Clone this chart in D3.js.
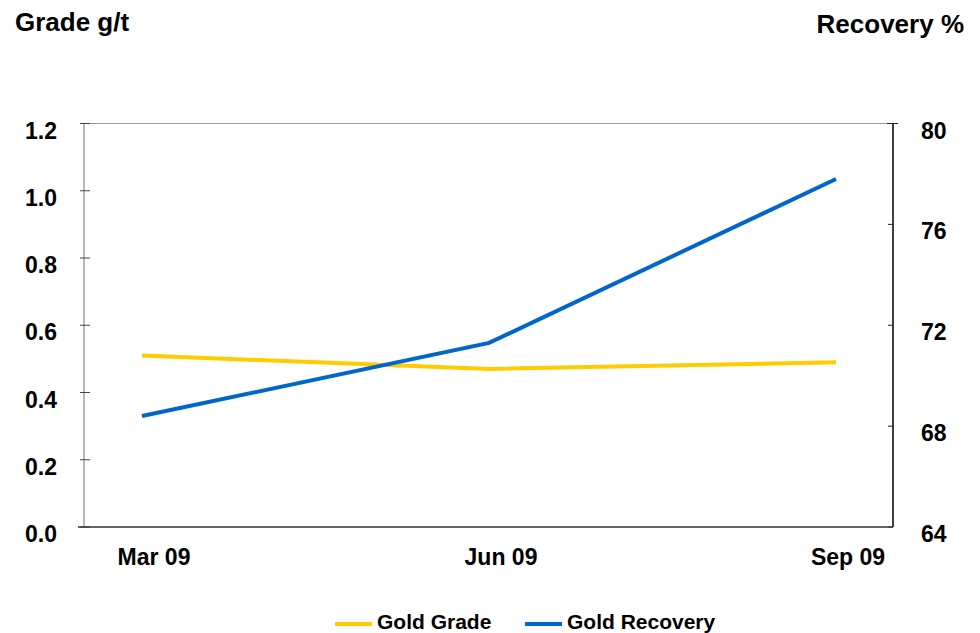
<!DOCTYPE html>
<html>
<head>
<meta charset="utf-8">
<script src="https://cdn.jsdelivr.net/npm/d3@7"></script>
<style>
  body { margin: 0; background: #fff; }
  svg text { font-family: "Liberation Sans", Arial, sans-serif; font-weight: bold; fill: #000; }
</style>
</head>
<body>
<svg id="chart" width="980" height="633"></svg>
<script>
// data
const quarters = ['Mar 09', 'Jun 09', 'Sep 09'];
const goldGrade = [0.51, 0.47, 0.49];
const goldRecovery = [68.4, 71.3, 77.8];
const gradeTicks = [0, 0.2, 0.4, 0.6, 0.8, 1.0, 1.2];
const recoveryTicks = [64, 68, 72, 76, 80];

const yellow = '#FFCC00';
const blue = '#0066CC';

const svg = d3.select('#chart');

const plotLeft = 84, plotRight = 893, plotTop = 123.5, plotBottom = 527;

const x = d3.scalePoint()
    .domain(quarters)
    .range([142, 836]);

const yGrade = d3.scaleLinear().domain([0, 1.2]).range([plotBottom, plotTop]);
const yRec = d3.scaleLinear().domain([64, 80]).range([plotBottom, plotTop]);

// frame: top line
svg.append('line')
    .attr('x1', plotLeft).attr('x2', plotRight)
    .attr('y1', plotTop).attr('y2', plotTop)
    .attr('stroke', '#999').attr('stroke-width', 1);

// left axis
const leftAxis = svg.append('g').attr('transform', `translate(${plotLeft},0)`);
leftAxis.append('line')
    .attr('y1', plotTop).attr('y2', plotBottom)
    .attr('stroke', '#888').attr('stroke-width', 1.2);
gradeTicks.forEach(t => {
    leftAxis.append('line')
        .attr('x1', -4).attr('x2', 6)
        .attr('y1', yGrade(t)).attr('y2', yGrade(t))
        .attr('stroke', '#444');
    leftAxis.append('text')
        .attr('x', -27)
        .attr('y', yGrade(t) + 15)
        .attr('text-anchor', 'end')
        .style('font-size', '23px')
        .text(d3.format('.1f')(t));
});

// right axis
const rightAxis = svg.append('g').attr('transform', `translate(${plotRight},0)`);
rightAxis.append('line')
    .attr('y1', plotTop).attr('y2', plotBottom)
    .attr('stroke', '#000').attr('stroke-width', 1.5);
recoveryTicks.forEach(t => {
    rightAxis.append('line')
        .attr('x1', t === 80 ? -6 : -5).attr('x2', t === 80 ? 5 : 0)
        .attr('y1', yRec(t)).attr('y2', yRec(t))
        .attr('stroke', '#222');
    rightAxis.append('text')
        .attr('x', 28)
        .attr('y', yRec(t) + 15)
        .attr('text-anchor', 'start')
        .style('font-size', '23px')
        .text(t);
});

// bottom axis line
svg.append('line')
    .attr('x1', 78).attr('x2', plotRight)
    .attr('y1', plotBottom).attr('y2', plotBottom)
    .attr('stroke', '#333').attr('stroke-width', 1.5);

// x labels
quarters.forEach(q => {
    svg.append('text')
        .attr('x', x(q) + 12)
        .attr('y', 565)
        .attr('text-anchor', 'middle')
        .style('font-size', '23px')
        .text(q);
});

// lines
const gradeLine = d3.line()
    .x((d, i) => x(quarters[i]))
    .y(d => yGrade(d));
const recLine = d3.line()
    .x((d, i) => x(quarters[i]))
    .y(d => yRec(d));

svg.append('path')
    .datum(goldGrade)
    .attr('d', gradeLine)
    .attr('fill', 'none')
    .attr('stroke', yellow)
    .attr('stroke-width', 4);

svg.append('path')
    .datum(goldRecovery)
    .attr('d', recLine)
    .attr('fill', 'none')
    .attr('stroke', blue)
    .attr('stroke-width', 4);

// axis titles
svg.append('text')
    .attr('x', 15).attr('y', 31)
    .style('font-size', '26px')
    .text('Grade g/t');
svg.append('text')
    .attr('x', 964).attr('y', 33)
    .attr('text-anchor', 'end')
    .style('font-size', '26px')
    .text('Recovery %');

// legend
const legend = [
    { name: 'Gold Grade', color: yellow, x: 335 },
    { name: 'Gold Recovery', color: blue, x: 525 }
];
legend.forEach(l => {
    svg.append('line')
        .attr('x1', l.x).attr('x2', l.x + 37)
        .attr('y1', 624).attr('y2', 624)
        .attr('stroke', l.color)
        .attr('stroke-width', 4);
    svg.append('text')
        .attr('x', l.x + 42)
        .attr('y', 629)
        .style('font-size', '21px')
        .text(l.name);
});
</script>
</body>
</html>
